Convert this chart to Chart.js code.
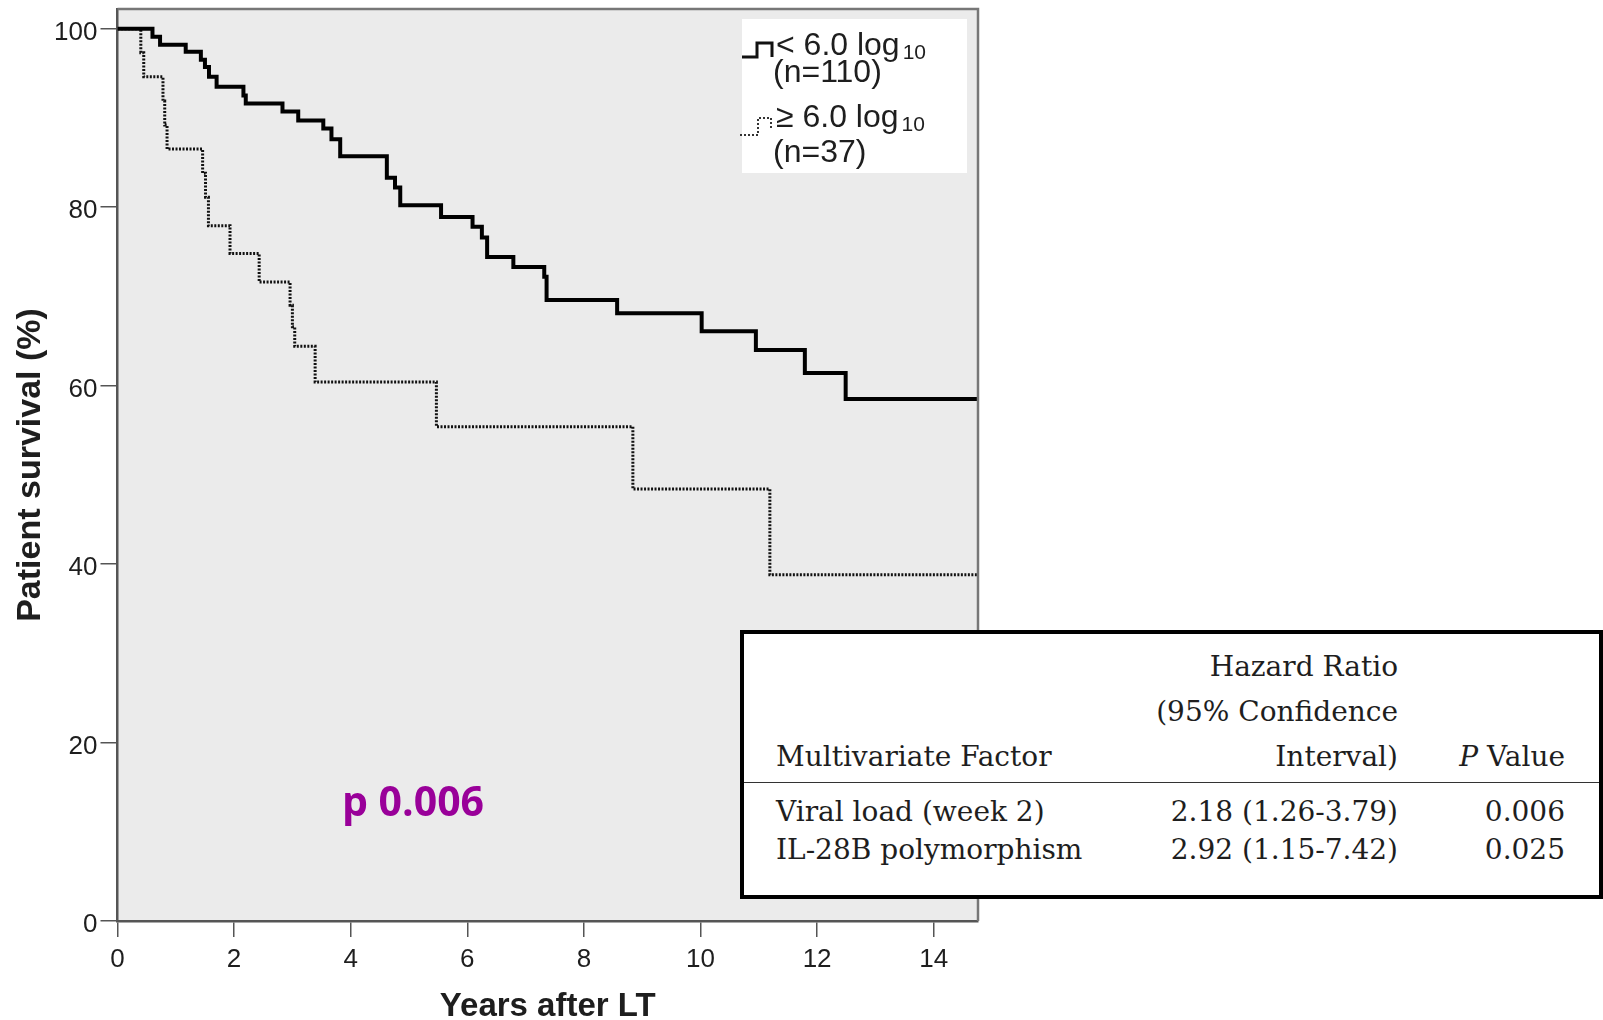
<!DOCTYPE html>
<html>
<head>
<meta charset="utf-8">
<script src="https://cdn.jsdelivr.net/npm/chart.js@4.4.1/dist/chart.umd.min.js"></script>
<style>
  html, body { margin: 0; padding: 0; background: #fff; }
  #wrap { position: relative; width: 1603px; height: 1020px; overflow: hidden; }
  #survChart { position: absolute; left: 0; top: 0; }
  .pval { position: absolute; left: 342px; top: 780px; font: bold 41px/41px "Open Sans"; color: #990099; white-space: nowrap; }
  #hr-box { position: absolute; left: 740px; top: 630px; width: 863px; height: 269px; box-sizing: border-box; border: 4px solid #000; background: #fff; }
  #hr-rule { position: absolute; left: 744px; top: 782px; width: 855px; height: 0; border-top: 1.5px solid #333; }
  .cell { position: absolute; font: 28px/28px "DejaVu Serif"; color: #1e1e1e; white-space: nowrap; }
</style>
</head>
<body>
<div id="wrap">
  <canvas id="survChart" width="1603" height="1020"></canvas>
  <div class="pval">p 0.006</div>
  <div id="hr-box"></div>
  <div id="hr-rule"></div>
</div>
<script>
// --- DATA ---
const lowTimes = [0, 0.60, 0.73, 1.17, 1.43, 1.50, 1.57, 1.70, 2.16, 2.20, 2.83, 3.10, 3.53, 3.67, 3.82, 4.62, 4.76, 4.85, 5.55, 6.09, 6.25, 6.34, 6.79, 7.32, 7.36, 8.57, 10.02, 10.95, 11.79, 12.49, 14.76];
const lowSurv  = [100, 99.1, 98.2, 97.4, 96.5, 95.7, 94.6, 93.5, 92.5, 91.6, 90.7, 89.7, 88.8, 87.6, 85.7, 83.3, 82.2, 80.2, 78.9, 77.8, 76.6, 74.4, 73.3, 72.2, 69.6, 68.1, 66.1, 64.0, 61.4, 58.5, 58.5];

const highTimes = [0, 0.40, 0.45, 0.78, 0.81, 0.85, 1.46, 1.51, 1.56, 1.93, 2.43, 2.96, 3.00, 3.04, 3.39, 5.47, 8.84, 11.19, 14.76];
const highSurv  = [100, 97.3, 94.6, 91.9, 89.2, 86.5, 83.8, 81.1, 77.9, 74.8, 71.6, 69.0, 66.6, 64.4, 60.4, 55.4, 48.4, 38.8, 38.8];

const xTicks = [0, 2, 4, 6, 8, 10, 12, 14];
const yTicks = [0, 20, 40, 60, 80, 100];

const groupLabels = ['< 6.0 log', '\u2265 6.0 log'];
const groupN = ['(n=110)', '(n=37)'];

// table next to the curves
const factorNames = ['Viral load (week 2)', 'IL-28B polymorphism'];
const hazardRatios = ['2.18 (1.26-3.79)', '2.92 (1.15-7.42)'];
const pValues = ['0.006', '0.025'];

function toPoints(xs, ys) {
    return xs.map((x, i) => ({ x: x, y: ys[i] }));
}

// --- TABLE ---
function addCell(html, baseline, left, right) {
    const el = document.createElement('div');
    el.className = 'cell';
    el.innerHTML = html;
    el.style.top = (baseline - 23.6) + 'px';
    if (left !== null) el.style.left = left + 'px';
    else el.style.right = right + 'px';
    document.getElementById('wrap').appendChild(el);
}

function renderTable() {
    addCell('Hazard Ratio', 677, null, 205);
    addCell('(95% Confidence', 722, null, 205);
    addCell('Multivariate Factor', 767, 776, null);
    addCell('Interval)', 767, null, 205);
    addCell('<i>P</i>&nbsp;Value', 767, null, 38);
    const rowBase = [822, 860];
    factorNames.forEach((name, i) => {
        addCell(name, rowBase[i], 776, null);
        addCell(hazardRatios[i], rowBase[i], null, 205);
        addCell(pValues[i], rowBase[i], null, 38);
    });
}

// --- PLUGINS ---
const plotBackground = {
    id: 'plotBackground',
    beforeDraw(chart) {
        const { ctx, chartArea: a } = chart;
        ctx.save();
        ctx.fillStyle = '#ebebeb';
        ctx.fillRect(a.left, a.top, a.right - a.left, a.bottom - a.top);
        ctx.restore();
    },
    afterDraw(chart) {
        const { ctx, chartArea: a } = chart;
        ctx.save();
        ctx.strokeStyle = '#777';
        ctx.lineWidth = 2.5;
        ctx.beginPath();
        ctx.moveTo(a.left, a.top);
        ctx.lineTo(a.right, a.top);
        ctx.lineTo(a.right, a.bottom);
        ctx.stroke();
        ctx.restore();
    }
};

const kmLegend = {
    id: 'kmLegend',
    afterDraw(chart) {
        const { ctx, chartArea: a } = chart;
        const bx = a.right - 236, by = a.top + 10;
        ctx.save();
        ctx.fillStyle = '#fff';
        ctx.fillRect(bx, by, 225, 154);

        // line samples
        ctx.strokeStyle = '#111';
        ctx.lineWidth = 3;
        ctx.beginPath();
        ctx.moveTo(bx, by + 38); ctx.lineTo(bx + 15, by + 38); ctx.lineTo(bx + 15, by + 24);
        ctx.lineTo(bx + 30, by + 24); ctx.lineTo(bx + 30, by + 38);
        ctx.stroke();

        ctx.strokeStyle = '#333';
        ctx.lineWidth = 2;
        ctx.setLineDash([2, 2]);
        ctx.beginPath();
        ctx.moveTo(bx - 2, by + 116); ctx.lineTo(bx + 16, by + 116); ctx.lineTo(bx + 16, by + 99);
        ctx.lineTo(bx + 29, by + 99); ctx.lineTo(bx + 29, by + 111);
        ctx.stroke();
        ctx.setLineDash([]);

        const mainBase = [36, 108];
        const nBase = [63, 143];
        ctx.fillStyle = '#1e1e1e';
        ctx.textAlign = 'left';
        ctx.textBaseline = 'alphabetic';
        groupLabels.forEach((lab, i) => {
            ctx.font = '32px "Liberation Sans", Arial, sans-serif';
            ctx.fillText(lab, bx + 34, by + mainBase[i]);
            const w = ctx.measureText(lab).width;
            ctx.fillText(groupN[i], bx + 31, by + nBase[i]);
            ctx.font = '21px "Liberation Sans", Arial, sans-serif';
            ctx.fillText('10', bx + 34 + w + 3, by + mainBase[i] + 4);
        });
        ctx.restore();
    }
};

// --- CHART ---
const axisFont = '"Liberation Sans", Arial, sans-serif';

function inicializarGrafica() {
    const ctx = document.getElementById('survChart').getContext('2d');
    new Chart(ctx, {
        type: 'line',
        data: {
            datasets: [{
                label: '< 6.0 log10 (n=110)',
                data: toPoints(lowTimes, lowSurv),
                borderColor: '#000',
                borderWidth: 4,
                stepped: 'before',
                pointRadius: 0,
                fill: false
            }, {
                label: '\u2265 6.0 log10 (n=37)',
                data: toPoints(highTimes, highSurv),
                borderColor: '#111',
                borderWidth: 3,
                borderDash: [2, 1.5],
                stepped: 'before',
                pointRadius: 0,
                fill: false
            }]
        },
        options: {
            responsive: false,
            animation: false,
            devicePixelRatio: 1,
            layout: { padding: { left: 0, top: 9, right: 625, bottom: 0 } },
            plugins: { legend: { display: false }, tooltip: { enabled: false } },
            scales: {
                x: {
                    type: 'linear', min: 0, max: 14.76,
                    afterBuildTicks: s => { s.ticks = xTicks.map(v => ({ value: v })); },
                    afterFit: s => { s.height = 99; s.paddingLeft = 0; s.paddingRight = 0; },
                    grid: { drawOnChartArea: false, drawTicks: true, tickLength: 16, color: '#555', lineWidth: 1.5 },
                    border: { display: true, color: '#555', width: 2.5 },
                    ticks: { padding: 7, color: '#1e1e1e', maxRotation: 0, autoSkip: false, font: { family: axisFont, size: 26 } },
                    title: { display: true, text: 'Years after LT', color: '#1e1e1e', padding: 0,
                             font: { family: axisFont, size: 33, weight: 'bold', lineHeight: 0.8 } }
                },
                y: {
                    type: 'linear', min: 0, max: 102.2,
                    afterBuildTicks: s => { s.ticks = yTicks.map(v => ({ value: v })); },
                    afterFit: s => { s.width = 117.5; s.paddingTop = 0; s.paddingBottom = 0; },
                    grid: { drawOnChartArea: false, drawTicks: true, tickLength: 17, color: '#555', lineWidth: 1.5 },
                    border: { display: true, color: '#555', width: 2.5 },
                    ticks: { padding: 3, labelOffset: 4, color: '#1e1e1e', font: { family: axisFont, size: 26 } },
                    title: { display: true, text: 'Patient survival (%)', color: '#1e1e1e', padding: { top: 10, bottom: 0 },
                             font: { family: axisFont, size: 34, weight: 'bold' } }
                }
            }
        },
        plugins: [plotBackground, kmLegend]
    });
}

inicializarGrafica();
renderTable();
</script>
</body>
</html>
